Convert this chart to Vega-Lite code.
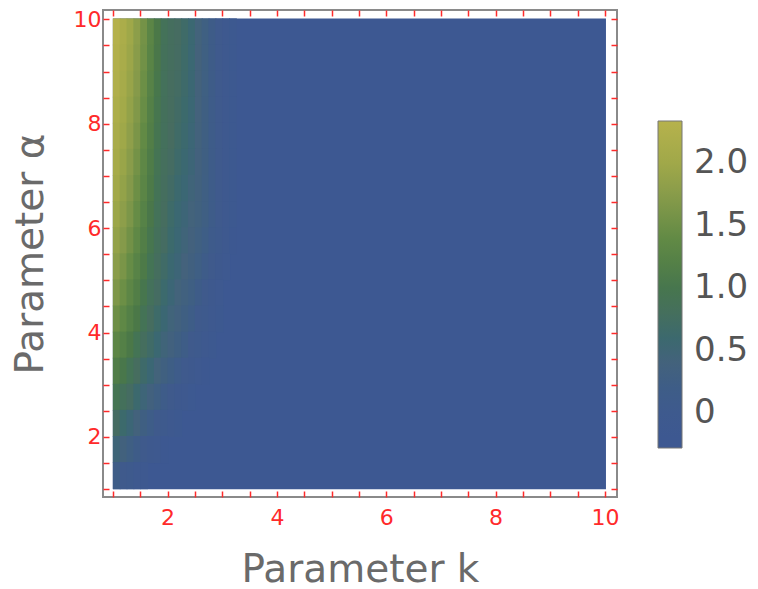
{
"$schema": "https://vega.github.io/schema/vega-lite/v6.json",
"width": 514, "height": 487,
"autosize": {"type": "none"},
"padding": {"left": 103, "top": 10, "right": 141, "bottom": 92},
"background": "white",
"config": {"font": "DejaVu Sans", "view": {"stroke": "#8a8a8a", "strokeWidth": 2}},
"data": {"values": [
{"k":1,"k2":10,"a":1,"a2":10,"v":-0.25},
{"k":1,"k2":1.125,"a":9.5,"a2":10,"v":2.31},{"k":1.125,"k2":1.25,"a":9.5,"a2":10,"v":2.16},{"k":1.25,"k2":1.375,"a":9.5,"a2":10,"v":1.99},{"k":1.375,"k2":1.5,"a":9.5,"a2":10,"v":1.79},{"k":1.5,"k2":1.625,"a":9.5,"a2":10,"v":1.56},{"k":1.625,"k2":1.75,"a":9.5,"a2":10,"v":1.31},{"k":1.75,"k2":1.875,"a":9.5,"a2":10,"v":1.06},{"k":1.875,"k2":2,"a":9.5,"a2":10,"v":0.87},{"k":2,"k2":2.125,"a":9.5,"a2":10,"v":0.79},{"k":2.125,"k2":2.25,"a":9.5,"a2":10,"v":0.73},{"k":2.25,"k2":2.375,"a":9.5,"a2":10,"v":0.66},{"k":2.375,"k2":2.5,"a":9.5,"a2":10,"v":0.56},{"k":2.5,"k2":2.625,"a":9.5,"a2":10,"v":0.43},{"k":2.625,"k2":2.75,"a":9.5,"a2":10,"v":0.3},{"k":2.75,"k2":2.875,"a":9.5,"a2":10,"v":0.18},{"k":2.875,"k2":3,"a":9.5,"a2":10,"v":0.06},{"k":3,"k2":3.125,"a":9.5,"a2":10,"v":-0.06},{"k":3.125,"k2":3.25,"a":9.5,"a2":10,"v":-0.18},
{"k":1,"k2":1.125,"a":9,"a2":9.5,"v":2.28},{"k":1.125,"k2":1.25,"a":9,"a2":9.5,"v":2.13},{"k":1.25,"k2":1.375,"a":9,"a2":9.5,"v":1.96},{"k":1.375,"k2":1.5,"a":9,"a2":9.5,"v":1.76},{"k":1.5,"k2":1.625,"a":9,"a2":9.5,"v":1.53},{"k":1.625,"k2":1.75,"a":9,"a2":9.5,"v":1.28},{"k":1.75,"k2":1.875,"a":9,"a2":9.5,"v":1.04},{"k":1.875,"k2":2,"a":9,"a2":9.5,"v":0.86},{"k":2,"k2":2.125,"a":9,"a2":9.5,"v":0.78},{"k":2.125,"k2":2.25,"a":9,"a2":9.5,"v":0.72},{"k":2.25,"k2":2.375,"a":9,"a2":9.5,"v":0.65},{"k":2.375,"k2":2.5,"a":9,"a2":9.5,"v":0.55},{"k":2.5,"k2":2.625,"a":9,"a2":9.5,"v":0.42},{"k":2.625,"k2":2.75,"a":9,"a2":9.5,"v":0.3},{"k":2.75,"k2":2.875,"a":9,"a2":9.5,"v":0.18},{"k":2.875,"k2":3,"a":9,"a2":9.5,"v":0.06},{"k":3,"k2":3.125,"a":9,"a2":9.5,"v":-0.06},{"k":3.125,"k2":3.25,"a":9,"a2":9.5,"v":-0.18},
{"k":1,"k2":1.125,"a":8.5,"a2":9,"v":2.24},{"k":1.125,"k2":1.25,"a":8.5,"a2":9,"v":2.09},{"k":1.25,"k2":1.375,"a":8.5,"a2":9,"v":1.92},{"k":1.375,"k2":1.5,"a":8.5,"a2":9,"v":1.72},{"k":1.5,"k2":1.625,"a":8.5,"a2":9,"v":1.49},{"k":1.625,"k2":1.75,"a":8.5,"a2":9,"v":1.25},{"k":1.75,"k2":1.875,"a":8.5,"a2":9,"v":1.02},{"k":1.875,"k2":2,"a":8.5,"a2":9,"v":0.85},{"k":2,"k2":2.125,"a":8.5,"a2":9,"v":0.77},{"k":2.125,"k2":2.25,"a":8.5,"a2":9,"v":0.71},{"k":2.25,"k2":2.375,"a":8.5,"a2":9,"v":0.64},{"k":2.375,"k2":2.5,"a":8.5,"a2":9,"v":0.54},{"k":2.5,"k2":2.625,"a":8.5,"a2":9,"v":0.42},{"k":2.625,"k2":2.75,"a":8.5,"a2":9,"v":0.3},{"k":2.75,"k2":2.875,"a":8.5,"a2":9,"v":0.18},{"k":2.875,"k2":3,"a":8.5,"a2":9,"v":0.06},{"k":3,"k2":3.125,"a":8.5,"a2":9,"v":-0.06},{"k":3.125,"k2":3.25,"a":8.5,"a2":9,"v":-0.18},
{"k":1,"k2":1.125,"a":8,"a2":8.5,"v":2.19},{"k":1.125,"k2":1.25,"a":8,"a2":8.5,"v":2.04},{"k":1.25,"k2":1.375,"a":8,"a2":8.5,"v":1.87},{"k":1.375,"k2":1.5,"a":8,"a2":8.5,"v":1.67},{"k":1.5,"k2":1.625,"a":8,"a2":8.5,"v":1.45},{"k":1.625,"k2":1.75,"a":8,"a2":8.5,"v":1.21},{"k":1.75,"k2":1.875,"a":8,"a2":8.5,"v":0.99},{"k":1.875,"k2":2,"a":8,"a2":8.5,"v":0.84},{"k":2,"k2":2.125,"a":8,"a2":8.5,"v":0.76},{"k":2.125,"k2":2.25,"a":8,"a2":8.5,"v":0.69},{"k":2.25,"k2":2.375,"a":8,"a2":8.5,"v":0.62},{"k":2.375,"k2":2.5,"a":8,"a2":8.5,"v":0.53},{"k":2.5,"k2":2.625,"a":8,"a2":8.5,"v":0.41},{"k":2.625,"k2":2.75,"a":8,"a2":8.5,"v":0.29},{"k":2.75,"k2":2.875,"a":8,"a2":8.5,"v":0.17},{"k":2.875,"k2":3,"a":8,"a2":8.5,"v":0.05},{"k":3,"k2":3.125,"a":8,"a2":8.5,"v":-0.07},{"k":3.125,"k2":3.25,"a":8,"a2":8.5,"v":-0.18},
{"k":1,"k2":1.125,"a":7.5,"a2":8,"v":2.14},{"k":1.125,"k2":1.25,"a":7.5,"a2":8,"v":1.99},{"k":1.25,"k2":1.375,"a":7.5,"a2":8,"v":1.82},{"k":1.375,"k2":1.5,"a":7.5,"a2":8,"v":1.62},{"k":1.5,"k2":1.625,"a":7.5,"a2":8,"v":1.4},{"k":1.625,"k2":1.75,"a":7.5,"a2":8,"v":1.17},{"k":1.75,"k2":1.875,"a":7.5,"a2":8,"v":0.97},{"k":1.875,"k2":2,"a":7.5,"a2":8,"v":0.83},{"k":2,"k2":2.125,"a":7.5,"a2":8,"v":0.74},{"k":2.125,"k2":2.25,"a":7.5,"a2":8,"v":0.67},{"k":2.25,"k2":2.375,"a":7.5,"a2":8,"v":0.6},{"k":2.375,"k2":2.5,"a":7.5,"a2":8,"v":0.51},{"k":2.5,"k2":2.625,"a":7.5,"a2":8,"v":0.4},{"k":2.625,"k2":2.75,"a":7.5,"a2":8,"v":0.29},{"k":2.75,"k2":2.875,"a":7.5,"a2":8,"v":0.17},{"k":2.875,"k2":3,"a":7.5,"a2":8,"v":0.05},{"k":3,"k2":3.125,"a":7.5,"a2":8,"v":-0.07},{"k":3.125,"k2":3.25,"a":7.5,"a2":8,"v":-0.18},
{"k":1,"k2":1.125,"a":7,"a2":7.5,"v":2.08},{"k":1.125,"k2":1.25,"a":7,"a2":7.5,"v":1.93},{"k":1.25,"k2":1.375,"a":7,"a2":7.5,"v":1.76},{"k":1.375,"k2":1.5,"a":7,"a2":7.5,"v":1.56},{"k":1.5,"k2":1.625,"a":7,"a2":7.5,"v":1.35},{"k":1.625,"k2":1.75,"a":7,"a2":7.5,"v":1.13},{"k":1.75,"k2":1.875,"a":7,"a2":7.5,"v":0.94},{"k":1.875,"k2":2,"a":7,"a2":7.5,"v":0.81},{"k":2,"k2":2.125,"a":7,"a2":7.5,"v":0.72},{"k":2.125,"k2":2.25,"a":7,"a2":7.5,"v":0.64},{"k":2.25,"k2":2.375,"a":7,"a2":7.5,"v":0.57},{"k":2.375,"k2":2.5,"a":7,"a2":7.5,"v":0.49},{"k":2.5,"k2":2.625,"a":7,"a2":7.5,"v":0.39},{"k":2.625,"k2":2.75,"a":7,"a2":7.5,"v":0.29},{"k":2.75,"k2":2.875,"a":7,"a2":7.5,"v":0.17},{"k":2.875,"k2":3,"a":7,"a2":7.5,"v":0.05},{"k":3,"k2":3.125,"a":7,"a2":7.5,"v":-0.07},{"k":3.125,"k2":3.25,"a":7,"a2":7.5,"v":-0.18},
{"k":1,"k2":1.125,"a":6.5,"a2":7,"v":2.02},{"k":1.125,"k2":1.25,"a":6.5,"a2":7,"v":1.87},{"k":1.25,"k2":1.375,"a":6.5,"a2":7,"v":1.7},{"k":1.375,"k2":1.5,"a":6.5,"a2":7,"v":1.5},{"k":1.5,"k2":1.625,"a":6.5,"a2":7,"v":1.3},{"k":1.625,"k2":1.75,"a":6.5,"a2":7,"v":1.09},{"k":1.75,"k2":1.875,"a":6.5,"a2":7,"v":0.91},{"k":1.875,"k2":2,"a":6.5,"a2":7,"v":0.79},{"k":2,"k2":2.125,"a":6.5,"a2":7,"v":0.69},{"k":2.125,"k2":2.25,"a":6.5,"a2":7,"v":0.6},{"k":2.25,"k2":2.375,"a":6.5,"a2":7,"v":0.53},{"k":2.375,"k2":2.5,"a":6.5,"a2":7,"v":0.46},{"k":2.5,"k2":2.625,"a":6.5,"a2":7,"v":0.38},{"k":2.625,"k2":2.75,"a":6.5,"a2":7,"v":0.28},{"k":2.75,"k2":2.875,"a":6.5,"a2":7,"v":0.17},{"k":2.875,"k2":3,"a":6.5,"a2":7,"v":0.05},{"k":3,"k2":3.125,"a":6.5,"a2":7,"v":-0.07},{"k":3.125,"k2":3.25,"a":6.5,"a2":7,"v":-0.18},
{"k":1,"k2":1.125,"a":6,"a2":6.5,"v":1.95},{"k":1.125,"k2":1.25,"a":6,"a2":6.5,"v":1.8},{"k":1.25,"k2":1.375,"a":6,"a2":6.5,"v":1.63},{"k":1.375,"k2":1.5,"a":6,"a2":6.5,"v":1.44},{"k":1.5,"k2":1.625,"a":6,"a2":6.5,"v":1.24},{"k":1.625,"k2":1.75,"a":6,"a2":6.5,"v":1.04},{"k":1.75,"k2":1.875,"a":6,"a2":6.5,"v":0.88},{"k":1.875,"k2":2,"a":6,"a2":6.5,"v":0.76},{"k":2,"k2":2.125,"a":6,"a2":6.5,"v":0.65},{"k":2.125,"k2":2.25,"a":6,"a2":6.5,"v":0.56},{"k":2.25,"k2":2.375,"a":6,"a2":6.5,"v":0.49},{"k":2.375,"k2":2.5,"a":6,"a2":6.5,"v":0.43},{"k":2.5,"k2":2.625,"a":6,"a2":6.5,"v":0.36},{"k":2.625,"k2":2.75,"a":6,"a2":6.5,"v":0.27},{"k":2.75,"k2":2.875,"a":6,"a2":6.5,"v":0.16},{"k":2.875,"k2":3,"a":6,"a2":6.5,"v":0.05},{"k":3,"k2":3.125,"a":6,"a2":6.5,"v":-0.07},{"k":3.125,"k2":3.25,"a":6,"a2":6.5,"v":-0.18},
{"k":1,"k2":1.125,"a":5.5,"a2":6,"v":1.87},{"k":1.125,"k2":1.25,"a":5.5,"a2":6,"v":1.71},{"k":1.25,"k2":1.375,"a":5.5,"a2":6,"v":1.54},{"k":1.375,"k2":1.5,"a":5.5,"a2":6,"v":1.36},{"k":1.5,"k2":1.625,"a":5.5,"a2":6,"v":1.17},{"k":1.625,"k2":1.75,"a":5.5,"a2":6,"v":0.99},{"k":1.75,"k2":1.875,"a":5.5,"a2":6,"v":0.84},{"k":1.875,"k2":2,"a":5.5,"a2":6,"v":0.72},{"k":2,"k2":2.125,"a":5.5,"a2":6,"v":0.62},{"k":2.125,"k2":2.25,"a":5.5,"a2":6,"v":0.53},{"k":2.25,"k2":2.375,"a":5.5,"a2":6,"v":0.46},{"k":2.375,"k2":2.5,"a":5.5,"a2":6,"v":0.39},{"k":2.5,"k2":2.625,"a":5.5,"a2":6,"v":0.32},{"k":2.625,"k2":2.75,"a":5.5,"a2":6,"v":0.23},{"k":2.75,"k2":2.875,"a":5.5,"a2":6,"v":0.13},{"k":2.875,"k2":3,"a":5.5,"a2":6,"v":0.02},{"k":3,"k2":3.125,"a":5.5,"a2":6,"v":-0.09},{"k":3.125,"k2":3.25,"a":5.5,"a2":6,"v":-0.2},
{"k":1,"k2":1.125,"a":5,"a2":5.5,"v":1.77},{"k":1.125,"k2":1.25,"a":5,"a2":5.5,"v":1.61},{"k":1.25,"k2":1.375,"a":5,"a2":5.5,"v":1.44},{"k":1.375,"k2":1.5,"a":5,"a2":5.5,"v":1.27},{"k":1.5,"k2":1.625,"a":5,"a2":5.5,"v":1.09},{"k":1.625,"k2":1.75,"a":5,"a2":5.5,"v":0.92},{"k":1.75,"k2":1.875,"a":5,"a2":5.5,"v":0.78},{"k":1.875,"k2":2,"a":5,"a2":5.5,"v":0.67},{"k":2,"k2":2.125,"a":5,"a2":5.5,"v":0.57},{"k":2.125,"k2":2.25,"a":5,"a2":5.5,"v":0.49},{"k":2.25,"k2":2.375,"a":5,"a2":5.5,"v":0.41},{"k":2.375,"k2":2.5,"a":5,"a2":5.5,"v":0.34},{"k":2.5,"k2":2.625,"a":5,"a2":5.5,"v":0.26},{"k":2.625,"k2":2.75,"a":5,"a2":5.5,"v":0.17},{"k":2.75,"k2":2.875,"a":5,"a2":5.5,"v":0.07},{"k":2.875,"k2":3,"a":5,"a2":5.5,"v":-0.04},{"k":3,"k2":3.125,"a":5,"a2":5.5,"v":-0.15},
{"k":1,"k2":1.125,"a":4.5,"a2":5,"v":1.65},{"k":1.125,"k2":1.25,"a":4.5,"a2":5,"v":1.49},{"k":1.25,"k2":1.375,"a":4.5,"a2":5,"v":1.33},{"k":1.375,"k2":1.5,"a":4.5,"a2":5,"v":1.17},{"k":1.5,"k2":1.625,"a":4.5,"a2":5,"v":1.0},{"k":1.625,"k2":1.75,"a":4.5,"a2":5,"v":0.85},{"k":1.75,"k2":1.875,"a":4.5,"a2":5,"v":0.72},{"k":1.875,"k2":2,"a":4.5,"a2":5,"v":0.61},{"k":2,"k2":2.125,"a":4.5,"a2":5,"v":0.51},{"k":2.125,"k2":2.25,"a":4.5,"a2":5,"v":0.43},{"k":2.25,"k2":2.375,"a":4.5,"a2":5,"v":0.35},{"k":2.375,"k2":2.5,"a":4.5,"a2":5,"v":0.27},{"k":2.5,"k2":2.625,"a":4.5,"a2":5,"v":0.18},{"k":2.625,"k2":2.75,"a":4.5,"a2":5,"v":0.09},{"k":2.75,"k2":2.875,"a":4.5,"a2":5,"v":-0.01},{"k":2.875,"k2":3,"a":4.5,"a2":5,"v":-0.12},
{"k":1,"k2":1.125,"a":4,"a2":4.5,"v":1.5},{"k":1.125,"k2":1.25,"a":4,"a2":4.5,"v":1.36},{"k":1.25,"k2":1.375,"a":4,"a2":4.5,"v":1.21},{"k":1.375,"k2":1.5,"a":4,"a2":4.5,"v":1.06},{"k":1.5,"k2":1.625,"a":4,"a2":4.5,"v":0.91},{"k":1.625,"k2":1.75,"a":4,"a2":4.5,"v":0.77},{"k":1.75,"k2":1.875,"a":4,"a2":4.5,"v":0.65},{"k":1.875,"k2":2,"a":4,"a2":4.5,"v":0.54},{"k":2,"k2":2.125,"a":4,"a2":4.5,"v":0.45},{"k":2.125,"k2":2.25,"a":4,"a2":4.5,"v":0.37},{"k":2.25,"k2":2.375,"a":4,"a2":4.5,"v":0.29},{"k":2.375,"k2":2.5,"a":4,"a2":4.5,"v":0.2},{"k":2.5,"k2":2.625,"a":4,"a2":4.5,"v":0.11},{"k":2.625,"k2":2.75,"a":4,"a2":4.5,"v":0.02},{"k":2.75,"k2":2.875,"a":4,"a2":4.5,"v":-0.08},{"k":2.875,"k2":3,"a":4,"a2":4.5,"v":-0.18},
{"k":1,"k2":1.125,"a":3.5,"a2":4,"v":1.33},{"k":1.125,"k2":1.25,"a":3.5,"a2":4,"v":1.2},{"k":1.25,"k2":1.375,"a":3.5,"a2":4,"v":1.06},{"k":1.375,"k2":1.5,"a":3.5,"a2":4,"v":0.92},{"k":1.5,"k2":1.625,"a":3.5,"a2":4,"v":0.79},{"k":1.625,"k2":1.75,"a":3.5,"a2":4,"v":0.67},{"k":1.75,"k2":1.875,"a":3.5,"a2":4,"v":0.56},{"k":1.875,"k2":2,"a":3.5,"a2":4,"v":0.46},{"k":2,"k2":2.125,"a":3.5,"a2":4,"v":0.37},{"k":2.125,"k2":2.25,"a":3.5,"a2":4,"v":0.29},{"k":2.25,"k2":2.375,"a":3.5,"a2":4,"v":0.2},{"k":2.375,"k2":2.5,"a":3.5,"a2":4,"v":0.11},{"k":2.5,"k2":2.625,"a":3.5,"a2":4,"v":0.02},{"k":2.625,"k2":2.75,"a":3.5,"a2":4,"v":-0.08},{"k":2.75,"k2":2.875,"a":3.5,"a2":4,"v":-0.18},
{"k":1,"k2":1.125,"a":3,"a2":3.5,"v":1.15},{"k":1.125,"k2":1.25,"a":3,"a2":3.5,"v":1.03},{"k":1.25,"k2":1.375,"a":3,"a2":3.5,"v":0.9},{"k":1.375,"k2":1.5,"a":3,"a2":3.5,"v":0.77},{"k":1.5,"k2":1.625,"a":3,"a2":3.5,"v":0.64},{"k":1.625,"k2":1.75,"a":3,"a2":3.5,"v":0.53},{"k":1.75,"k2":1.875,"a":3,"a2":3.5,"v":0.43},{"k":1.875,"k2":2,"a":3,"a2":3.5,"v":0.33},{"k":2,"k2":2.125,"a":3,"a2":3.5,"v":0.24},{"k":2.125,"k2":2.25,"a":3,"a2":3.5,"v":0.15},{"k":2.25,"k2":2.375,"a":3,"a2":3.5,"v":0.06},{"k":2.375,"k2":2.5,"a":3,"a2":3.5,"v":-0.03},{"k":2.5,"k2":2.625,"a":3,"a2":3.5,"v":-0.12},{"k":2.625,"k2":2.75,"a":3,"a2":3.5,"v":-0.2},
{"k":1,"k2":1.125,"a":2.5,"a2":3,"v":0.95},{"k":1.125,"k2":1.25,"a":2.5,"a2":3,"v":0.84},{"k":1.25,"k2":1.375,"a":2.5,"a2":3,"v":0.72},{"k":1.375,"k2":1.5,"a":2.5,"a2":3,"v":0.6},{"k":1.5,"k2":1.625,"a":2.5,"a2":3,"v":0.48},{"k":1.625,"k2":1.75,"a":2.5,"a2":3,"v":0.37},{"k":1.75,"k2":1.875,"a":2.5,"a2":3,"v":0.27},{"k":1.875,"k2":2,"a":2.5,"a2":3,"v":0.17},{"k":2,"k2":2.125,"a":2.5,"a2":3,"v":0.08},{"k":2.125,"k2":2.25,"a":2.5,"a2":3,"v":-0.01},{"k":2.25,"k2":2.375,"a":2.5,"a2":3,"v":-0.1},{"k":2.375,"k2":2.5,"a":2.5,"a2":3,"v":-0.19},
{"k":1,"k2":1.125,"a":2,"a2":2.5,"v":0.72},{"k":1.125,"k2":1.25,"a":2,"a2":2.5,"v":0.62},{"k":1.25,"k2":1.375,"a":2,"a2":2.5,"v":0.51},{"k":1.375,"k2":1.5,"a":2,"a2":2.5,"v":0.4},{"k":1.5,"k2":1.625,"a":2,"a2":2.5,"v":0.29},{"k":1.625,"k2":1.75,"a":2,"a2":2.5,"v":0.19},{"k":1.75,"k2":1.875,"a":2,"a2":2.5,"v":0.1},{"k":1.875,"k2":2,"a":2,"a2":2.5,"v":0.01},{"k":2,"k2":2.125,"a":2,"a2":2.5,"v":-0.08},{"k":2.125,"k2":2.25,"a":2,"a2":2.5,"v":-0.17},
{"k":1,"k2":1.125,"a":1.5,"a2":2,"v":0.48},{"k":1.125,"k2":1.25,"a":1.5,"a2":2,"v":0.38},{"k":1.25,"k2":1.375,"a":1.5,"a2":2,"v":0.28},{"k":1.375,"k2":1.5,"a":1.5,"a2":2,"v":0.18},{"k":1.5,"k2":1.625,"a":1.5,"a2":2,"v":0.08},{"k":1.625,"k2":1.75,"a":1.5,"a2":2,"v":-0.02},{"k":1.75,"k2":1.875,"a":1.5,"a2":2,"v":-0.11},{"k":1.875,"k2":2,"a":1.5,"a2":2,"v":-0.2},
{"k":1,"k2":1.125,"a":1,"a2":1.5,"v":0.2},{"k":1.125,"k2":1.25,"a":1,"a2":1.5,"v":0.11},{"k":1.25,"k2":1.375,"a":1,"a2":1.5,"v":0.02},{"k":1.375,"k2":1.5,"a":1,"a2":1.5,"v":-0.07},{"k":1.5,"k2":1.625,"a":1,"a2":1.5,"v":-0.16}
]},
"layer": [
{
"mark": {"type": "rect", "x2Offset": 1, "y2Offset": -1},
"encoding": {
"x": {"field": "k", "type": "quantitative",
"scale": {"domain": [0.82, 10.22], "nice": false, "zero": false},
"axis": {"orient": "bottom", "values": [1,1.5,2,2.5,3,3.5,4,4.5,5,5.5,6,6.5,7,7.5,8,8.5,9,9.5,10],
"labelExpr": "datum.value % 2 === 0 ? '' + datum.value : ''",
"tickSize": -6,
"tickColor": "#ff2a2a", "tickWidth": 1.5, "domain": false, "grid": false,
"labelColor": "#ff2a2a", "labelFontSize": 22, "labelPadding": 16, "labelFlush": false, "labelOverlap": false,
"title": "Parameter k", "titleFontSize": 39, "titleFontWeight": "normal", "titleColor": "#6a6a6a", "titlePadding": 22}},
"x2": {"field": "k2"},
"y": {"field": "a", "type": "quantitative",
"scale": {"domain": [0.85, 10.18], "nice": false, "zero": false},
"axis": {"orient": "left", "values": [1,1.5,2,2.5,3,3.5,4,4.5,5,5.5,6,6.5,7,7.5,8,8.5,9,9.5,10],
"labelExpr": "datum.value % 2 === 0 ? '' + datum.value : ''",
"tickSize": -6,
"tickColor": "#ff2a2a", "tickWidth": 1.5, "domain": false, "grid": false,
"labelColor": "#ff2a2a", "labelFontSize": 22, "labelPadding": 8, "labelFlush": false, "labelOverlap": false,
"title": "Parameter α", "titleFontSize": 39, "titleFontWeight": "normal", "titleColor": "#6a6a6a", "titlePadding": 23}},
"y2": {"field": "a2"},
"color": {"field": "v", "type": "quantitative",
"scale": {"type": "linear", "domain": [-0.28, 0.1, 0.42, 0.74, 1.06, 1.4, 1.7, 2.02, 2.34],
"range": ["#3d5892", "#3f5a8c", "#44627b", "#476c60", "#4b7848", "#628a45", "#84994a", "#a2a949", "#b6b24c"], "clamp": true},
"legend": {"type": "gradient", "orient": "none", "legendX": 555, "legendY": 111, "title": null, "direction": "vertical",
"gradientLength": 327, "gradientThickness": 24, "gradientStrokeColor": "#777777", "gradientStrokeWidth": 1,
"values": [0, 0.5, 1, 1.5, 2], "labelExpr": "datum.value === 0 ? '0' : format(datum.value, '.1f')",
"labelFontSize": 34, "labelColor": "#555555", "labelOffset": 12, "labelOverlap": false}}
}
},
{
"mark": {"type": "rect", "opacity": 0},
"encoding": {
"x": {"field": "k", "type": "quantitative",
"axis": {"orient": "top", "values": [1,1.5,2,2.5,3,3.5,4,4.5,5,5.5,6,6.5,7,7.5,8,8.5,9,9.5,10], "labels": false, "title": null,
"tickSize": -6, "tickColor": "#ff2a2a", "tickWidth": 1.5, "domain": false, "grid": false}},
"x2": {"field": "k2"},
"y": {"field": "a", "type": "quantitative",
"axis": {"orient": "right", "values": [1,1.5,2,2.5,3,3.5,4,4.5,5,5.5,6,6.5,7,7.5,8,8.5,9,9.5,10], "labels": false, "title": null,
"tickSize": -6, "tickColor": "#ff2a2a", "tickWidth": 1.5, "domain": false, "grid": false}},
"y2": {"field": "a2"}
}
}
],
"resolve": {"axis": {"x": "independent", "y": "independent"}}
}
